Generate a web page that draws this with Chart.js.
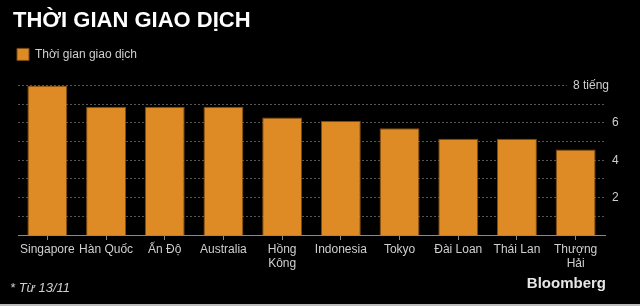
<!DOCTYPE html>
<html>
<head>
<meta charset="utf-8">
<script src="https://cdn.jsdelivr.net/npm/chart.js@4/dist/chart.umd.min.js"></script>
<style>
  html, body { margin: 0; padding: 0; background: #000; }
  #wrap { width: 640px; height: 306px; }
</style>
</head>
<body>
<div id="wrap"><canvas id="tradingChart" width="640" height="306"></canvas></div>
<script>
// data
const markets = ['Singapore', 'Hàn Quốc', 'Ấn Độ', 'Australia', ['Hồng', 'Kông'], 'Indonesia', 'Tokyo', 'Đài Loan', 'Thái Lan', ['Thượng', 'Hải']];
const tradingHours = [7, 6, 6, 6, 5.5, 5.33, 5, 4.5, 4.5, 4];
const yTicks = [2, 4, 6];
const topTickLabel = '8 tiếng';

const orange = '#df8b25';
const gridGray = '#555555';
const textGray = '#cfcfcf';

// extra room under the legend
const legendGap = {
  id: 'legendGap',
  beforeInit(chart) {
    const fit = chart.legend.fit;
    chart.legend.fit = function () {
      fit.call(this);
      this.height += 15;
    };
  }
};

// footer texts + "8 tiếng" label that sits over the top gridline
const extras = {
  id: 'extras',
  afterDraw(chart) {
    const ctx = chart.ctx;
    const y = chart.scales.y;
    const yTop = y.getPixelForValue(8);
    ctx.save();
    ctx.font = '12px "Liberation Sans", Arial, sans-serif';
    const w = ctx.measureText(topTickLabel).width;
    ctx.fillStyle = '#000';
    ctx.fillRect(609 - w - 6, yTop - 8, w + 16, 16);
    ctx.fillStyle = textGray;
    ctx.textAlign = 'right';
    ctx.textBaseline = 'middle';
    ctx.fillText(topTickLabel, 609, yTop);

    ctx.textAlign = 'left';
    ctx.textBaseline = 'alphabetic';
    ctx.font = 'italic 13px "Liberation Sans", Arial, sans-serif';
    ctx.fillText('* Từ 13/11', 10, 292);

    ctx.textAlign = 'right';
    ctx.fillStyle = '#e6e6e6';
    ctx.font = 'bold 15px "Liberation Sans", Arial, sans-serif';
    ctx.fillText('Bloomberg', 606, 288);

    ctx.fillStyle = '#bdbdbd';
    ctx.fillRect(0, 304, 640, 2);
    ctx.restore();
  }
};

new Chart(document.getElementById('tradingChart').getContext('2d'), {
  type: 'bar',
  data: {
    labels: markets,
    datasets: [{
      label: 'Thời gian giao dịch',
      data: tradingHours,
      backgroundColor: orange,
      borderColor: '#7d4b12',
      borderWidth: 1,
      categoryPercentage: 1,
      barPercentage: 0.68
    }]
  },
  options: {
    responsive: false,
    animation: false,
    layout: { padding: { left: 13, right: 0, top: 0, bottom: 0 } },
    plugins: {
      title: {
        display: true,
        text: 'THỜI GIAN GIAO DỊCH',
        align: 'start',
        color: '#ffffff',
        font: { family: '"Liberation Sans", Arial, sans-serif', size: 22, weight: 'bold' },
        padding: { top: 8, bottom: 10 }
      },
      legend: {
        display: true,
        position: 'top',
        align: 'start',
        labels: {
          color: textGray,
          boxWidth: 12,
          boxHeight: 12,
          padding: 4,
          font: { family: '"Liberation Sans", Arial, sans-serif', size: 12 }
        }
      },
      tooltip: { enabled: false }
    },
    scales: {
      x: {
        grid: { display: true, drawOnChartArea: false, offset: false, color: '#8a8a8a', tickLength: 5 },
        border: { display: true, color: '#8a8a8a', width: 1 },
        ticks: {
          color: textGray,
          maxRotation: 0,
          autoSkip: false,
          padding: 2,
          font: { family: '"Liberation Sans", Arial, sans-serif', size: 12, lineHeight: 1.2 }
        },
        afterFit(scale) { scale.height = 71; }
      },
      // empty spacer on the left so the plot starts a little right of the title
      spacer: {
        position: 'left',
        display: true,
        grid: { display: false },
        border: { display: false },
        ticks: { display: false },
        afterFit(scale) { scale.width = 5; }
      },
      y: {
        position: 'right',
        min: 0,
        max: 8,
        grid: { color: gridGray, lineWidth: 1, drawTicks: false },
        border: { display: false, dash: [2, 2] },
        ticks: {
          stepSize: 1,
          color: textGray,
          padding: 7,
          font: { family: '"Liberation Sans", Arial, sans-serif', size: 12 },
          callback: v => yTicks.includes(v) ? v : ''
        },
        afterFit(scale) { scale.width = 35; }
      }
    }
  },
  plugins: [legendGap, extras]
});
</script>
</body>
</html>
